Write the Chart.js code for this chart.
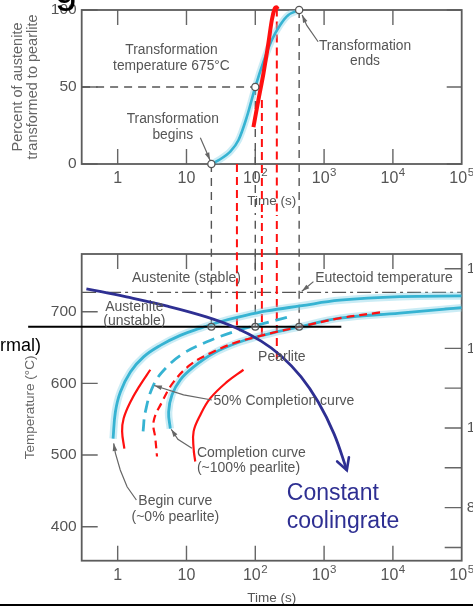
<!DOCTYPE html>
<html>
<head>
<meta charset="utf-8">
<script src="https://cdn.jsdelivr.net/npm/chart.js@4.4.0/dist/chart.umd.min.js"></script>
<style>
  html, body { margin: 0; padding: 0; background: #fff; }
  body { position: relative; width: 473px; height: 607px; overflow: hidden; }
  .panel { position: absolute; left: 0; }
  .side { position: absolute; font-family: Arial, "Liberation Sans", sans-serif; color: #000; white-space: nowrap; line-height: 1; }
</style>
</head>
<body>
<div class="panel" style="top:0"><canvas id="topChart" width="473" height="215"></canvas></div>
<div class="panel" style="top:215px"><canvas id="botChart" width="473" height="392"></canvas></div>
<div class="side" style="right:432px;top:336px;font-size:18px">(isothermal)</div>
<div class="side" style="left:55px;top:-31px;font-size:40px">g</div>
<script>
// axes
const TIME_TICKS = [1, 10, 100, 1000, 10000, 100000];
const TIME_BASE = ['1', '10', '10', '10', '10', '10'];
const TIME_EXP = ['', '', '2', '3', '4', '5'];
const PCT_TICKS = [0, 50, 100];
const TEMP_TICKS = [400, 500, 600, 700];
const TEMPF_TICKS = [700, 800, 900, 1000, 1100, 1200, 1300, 1400];
const TEMPF_LABELS = ['', '800', '', '1000', '', '1200', '', '1400'];

// top panel: percent transformed at 675 C
const fracTime = [23, 30.9, 43.3, 57.1, 75.5, 100, 131.5, 174, 230, 303, 434];
const fracPct = [0, 3.1, 8.1, 15.6, 30.7, 50, 66.4, 80.5, 90.3, 96.8, 100];
const redFracTime = [94, 111, 131.5, 155, 174, 190, 203, 212];
const redFracPct = [24, 41.6, 58.9, 78.4, 93.5, 100.5, 101.8, 100.5];
const markTime = [23, 100, 434];
const markPct = [0, 50, 100];

// bottom panel: TTT curves
const isoTemp = 679;
const eutectoidTemp = 727;
const isoLineTime = [0.05, 1780];
const beginTime = [0.857, 0.926, 1.094, 1.53, 2.38, 4.17, 8.13, 15.9, 31, 60.5, 147, 447, 1700, 12600, 100000];
const beginTemp = [523, 560, 588, 616, 637, 653, 667, 677, 686, 693, 701, 708, 716, 721, 722];
const halfTime = [2.34, 2.52, 3.33, 5.21, 9.07, 19.8, 48.3, 105, 288];
const halfTemp = [533, 560, 598, 623, 642, 658, 672, 681, 692];
const endTime = [5.82, 5.5, 6.16, 8.13, 12.7, 24.7, 60.4, 147, 447, 1700, 12600, 100000];
const endTemp = [537, 560, 584, 605, 623, 642, 658, 668.5, 679, 691, 698, 705.6];
const redLeftTime = [2.98, 2.13, 1.53, 1.22, 1.16, 1.25];
const redLeftTemp = [619, 598, 574, 551, 533, 509];
const redMidTime = [6500, 1707, 447, 206, 105, 48.3, 22.1, 11.4, 6.5, 4.41, 3.33, 3.53, 3.73];
const redMidTemp = [699, 691, 679, 672, 665, 656, 642, 626, 602, 574, 547, 523, 498];
const redRightTime = [67.4, 38.7, 22.1, 15.9, 12.7, 12.7, 13.4];
const redRightTemp = [619, 602, 579, 556, 533, 509, 491];
const coolTime = [0.351, 1.34, 5.09, 19.4, 52.8, 121.8, 237.7, 463.5, 818, 1396, 2140];
const coolTemp = [732, 720.6, 708, 692.7, 677.3, 659, 638.3, 609.2, 574.3, 529.6, 479];
const redDropTime = [54.1, 124.7, 205.6];
const redDropPct = [0, 41.6, 101];
const redDropTemp = [681, 667.6, 634];

const T_MIN = 0.304, T_MAX = 100000;
const C_MIN = 352.6, C_MAX = 780.5;
const FONT = 'Arial, "Liberation Sans", sans-serif';
const CYAN = '#36b3d2';
const HALO = 'rgba(140,212,232,0.45)';
const RED = '#ff1010';
const NAVY = '#2e2f92';
const GREY = '#555';

Chart.defaults.font.family = FONT;

function toPts(xs, ys) { return xs.map((x, i) => ({x: x, y: ys[i]})); }
function drops(xs, ys, toY) {
  const out = [];
  xs.forEach((x, i) => { out.push({x: x, y: ys[i]}, {x: x, y: toY}, {x: x, y: null}); });
  return out;
}
function line(data, color, width, extra) {
  return Object.assign({data: data, showLine: true, borderColor: color, borderWidth: width,
    pointRadius: 0, fill: false, tension: 0.4}, extra || {});
}

const panelDecor = {
  id: 'panelDecor',
  beforeDatasetsDraw(chart, args, o) {
    const {ctx, chartArea: a, scales} = chart;
    const tl = 15;
    ctx.save();
    ctx.strokeStyle = '#666';
    ctx.lineWidth = 1.4;
    ctx.beginPath();
    scales.x.ticks.forEach(t => {
      const px = scales.x.getPixelForValue(t.value);
      if (px > a.right - 2) return;
      ctx.moveTo(px, a.top); ctx.lineTo(px, a.top + tl);
      ctx.moveTo(px, a.bottom); ctx.lineTo(px, a.bottom - tl);
    });
    scales.y.ticks.forEach(t => {
      const py = scales.y.getPixelForValue(t.value);
      ctx.moveTo(a.left, py); ctx.lineTo(a.left + tl + 1, py);
      if (o.rightTicks) { ctx.moveTo(a.right, py); ctx.lineTo(a.right - tl, py); }
    });
    if (scales.yF) {
      scales.yF.ticks.forEach(t => {
        const py = scales.yF.getPixelForValue(t.value);
        ctx.moveTo(a.right, py); ctx.lineTo(a.right - tl - 2, py);
      });
    }
    ctx.stroke();
    ctx.lineWidth = 1.8;
    ctx.strokeStyle = '#5c5c5c';
    ctx.strokeRect(a.left, a.top, a.width, a.height);
    // time labels with raised exponents
    ctx.fillStyle = GREY;
    ctx.textBaseline = 'middle';
    ctx.textAlign = 'left';
    TIME_TICKS.forEach((v, i) => {
      const px = scales.x.getPixelForValue(v), py = a.bottom + 14.8;
      ctx.font = '16px ' + FONT;
      const wb = ctx.measureText(TIME_BASE[i]).width;
      ctx.font = '11.5px ' + FONT;
      const we = TIME_EXP[i] ? ctx.measureText(TIME_EXP[i]).width + 0.5 : 0;
      const x0 = px - (wb + we) / 2;
      ctx.font = '16px ' + FONT;
      ctx.fillText(TIME_BASE[i], x0, py);
      if (we) { ctx.font = '11.5px ' + FONT; ctx.fillText(TIME_EXP[i], x0 + wb + 0.5, py - 6); }
    });
    ctx.restore();
  },
  afterDatasetsDraw(chart, args, o) {
    const {ctx, scales} = chart;
    const xs = scales.x, ys = scales.y;
    ctx.save();
    (o.arrows || []).forEach(ar => {
      const p = ar.pts.map(q => [xs.getPixelForValue(q[0]), ys.getPixelForValue(q[1])]);
      ctx.strokeStyle = '#666'; ctx.fillStyle = '#666'; ctx.lineWidth = 1.2;
      ctx.beginPath();
      ctx.moveTo(p[0][0], p[0][1]);
      p.slice(1).forEach(q => ctx.lineTo(q[0], q[1]));
      ctx.stroke();
      const [x1, y1] = p[p.length - 2], [x2, y2] = p[p.length - 1];
      const ang = Math.atan2(y2 - y1, x2 - x1);
      ctx.beginPath();
      ctx.moveTo(x2, y2);
      ctx.lineTo(x2 - 8 * Math.cos(ang - 0.3), y2 - 8 * Math.sin(ang - 0.3));
      ctx.lineTo(x2 - 8 * Math.cos(ang + 0.3), y2 - 8 * Math.sin(ang + 0.3));
      ctx.closePath();
      ctx.fill();
    });
    if (o.chevron) {
      const n = o.chevron.xs.length;
      const x1 = xs.getPixelForValue(o.chevron.xs[n - 2]), y1 = ys.getPixelForValue(o.chevron.ys[n - 2]);
      const x2 = xs.getPixelForValue(o.chevron.xs[n - 1]), y2 = ys.getPixelForValue(o.chevron.ys[n - 1]);
      const ang = Math.atan2(y2 - y1, x2 - x1);
      ctx.strokeStyle = NAVY; ctx.lineWidth = 2.6; ctx.lineCap = 'round';
      ctx.beginPath();
      ctx.moveTo(x2 - 13 * Math.cos(ang - 0.5), y2 - 13 * Math.sin(ang - 0.5));
      ctx.lineTo(x2, y2);
      ctx.lineTo(x2 - 13 * Math.cos(ang + 0.5), y2 - 13 * Math.sin(ang + 0.5));
      ctx.stroke();
    }
    (o.notes || []).forEach(n => {
      const px = xs.getPixelForValue(n.x), py = ys.getPixelForValue(n.y);
      ctx.font = (n.size || o.noteSize || 13.5) + 'px ' + FONT;
      ctx.fillStyle = n.color || GREY;
      ctx.textAlign = n.align || 'center';
      ctx.textBaseline = 'middle';
      n.lines.forEach((l, i) => ctx.fillText(l, px, py + i * (n.gap || 15.5)));
    });
    ctx.restore();
  }
};

function timeAxis(height, titlePad) {
  return {
    type: 'logarithmic', min: T_MIN, max: T_MAX,
    afterBuildTicks: s => { s.ticks = TIME_TICKS.map(v => ({value: v})); },
    afterFit: s => { s.height = height; s.paddingLeft = 0; s.paddingRight = 0; },
    ticks: {display: false},
    grid: {display: false, drawTicks: false}, border: {display: false},
    title: {display: true, text: 'Time (s)', color: GREY, font: {size: 13.5},
      padding: {top: 0, bottom: titlePad}}
  };
}

const baseOpts = {
  responsive: false, animation: false, events: [],
  plugins: {legend: {display: false}, tooltip: {enabled: false}}
};

// top panel
new Chart(document.getElementById('topChart'), {
  type: 'scatter',
  data: {datasets: [
    {data: toPts(markTime, markPct), pointRadius: 3.6, pointBackgroundColor: '#fff',
      pointBorderColor: '#555', pointBorderWidth: 1.3, showLine: false, clip: false},
    line(toPts(redFracTime, redFracPct), RED, 4, {clip: false, tension: 0.3}),
    line(toPts(fracTime, fracPct), CYAN, 2.6, {tension: 0.3}),
    line(toPts(fracTime, fracPct), HALO, 7, {tension: 0.3}),
    line(drops(redDropTime, redDropPct, -40), RED, 2, {borderDash: [8, 5], tension: 0, clip: false}),
    line(drops(markTime, markPct, -40), GREY, 1.4, {borderDash: [8, 6], tension: 0, clip: false}),
    line(toPts([T_MIN, 100], [50, 50]), GREY, 1.4, {borderDash: [8, 6], tension: 0})
  ]},
  options: Object.assign({}, baseOpts, {
    layout: {padding: {top: 10, right: 11.3, left: 0, bottom: 0}},
    scales: {
      x: timeAxis(51, 6),
      y: {
        min: 0, max: 100,
        afterBuildTicks: s => { s.ticks = PCT_TICKS.map(v => ({value: v})); },
        afterFit: s => { s.width = 81.7; s.paddingTop = 0; s.paddingBottom = 0; },
        ticks: {color: GREY, font: {size: 15.5}, padding: 5},
        grid: {display: false, drawTicks: false}, border: {display: false},
        title: {display: true, text: ['Percent of austenite', 'transformed to pearlite'], color: '#666',
          font: {size: 14.5, lineHeight: 1.05}, padding: {top: 10, bottom: 0}}
      }
    },
    plugins: Object.assign({}, baseOpts.plugins, {
      panelDecor: {
        rightTicks: true,
        noteSize: 13.8,
        notes: [
          {x: 6.05, y: 74, lines: ['Transformation', 'temperature 675°C'], gap: 15.7},
          {x: 6.32, y: 29, lines: ['Transformation', 'begins'], gap: 15.7},
          {x: 3935, y: 76.8, lines: ['Transformation', 'ends'], gap: 15.3}
        ],
        arrows: [
          {pts: [[15.9, 17], [19.5, 8], [22, 2.5]]},
          {pts: [[819, 79.4], [560, 90], [480, 96.8]]}
        ]
      }
    })
  }),
  plugins: [panelDecor]
});

// bottom panel
new Chart(document.getElementById('botChart'), {
  type: 'scatter',
  data: {datasets: [
    {data: toPts(markTime, markTime.map(() => isoTemp)), pointRadius: 3.4, pointBackgroundColor: 'rgba(255,255,255,0.3)',
      pointBorderColor: '#555', pointBorderWidth: 1.3, showLine: false, clip: false},
    line(toPts(coolTime, coolTemp), NAVY, 2.8, {clip: false, tension: 0.4}),
    line(toPts(isoLineTime, [isoTemp, isoTemp]), '#000', 2, {clip: false, tension: 0}),
    line(toPts(redLeftTime, redLeftTemp), RED, 2.2),
    line(toPts(redMidTime, redMidTemp), RED, 2.2, {borderDash: [8, 5]}),
    line(toPts(redRightTime, redRightTemp), RED, 2.2),
    line(toPts(beginTime, beginTemp), CYAN, 2.8),
    line(toPts(halfTime, halfTemp), CYAN, 2.8, {borderDash: [12, 7]}),
    line(toPts(endTime, endTemp), CYAN, 2.8),
    line(toPts(beginTime, beginTemp), HALO, 7.5),
    line(toPts(endTime, endTemp), HALO, 7.5),
    line(drops(redDropTime, redDropTemp, 850), RED, 2, {borderDash: [8, 5], tension: 0, clip: false}),
    line(drops(markTime, markTime.map(() => isoTemp), 850), GREY, 1.4, {borderDash: [8, 6], tension: 0, clip: false}),
    line(toPts([T_MIN, T_MAX], [eutectoidTemp, eutectoidTemp]), GREY, 1.3, {borderDash: [14, 4, 3, 4], tension: 0})
  ]},
  options: Object.assign({}, baseOpts, {
    layout: {padding: {top: 39, right: 0, left: 0, bottom: 0}},
    scales: {
      x: timeAxis(46.3, 1),
      y: {
        min: C_MIN, max: C_MAX,
        afterBuildTicks: s => { s.ticks = TEMP_TICKS.map(v => ({value: v})); },
        afterFit: s => { s.width = 81.7; s.paddingTop = 0; s.paddingBottom = 0; },
        ticks: {color: GREY, font: {size: 15.5}, padding: 5},
        grid: {display: false, drawTicks: false}, border: {display: false},
        title: {display: true, text: 'Temperature (°C)', color: '#666', font: {size: 13.5},
          padding: {top: 22, bottom: 0}}
      },
      yF: {
        position: 'right',
        min: C_MIN * 1.8 + 32, max: C_MAX * 1.8 + 32,
        afterBuildTicks: s => { s.ticks = TEMPF_TICKS.map(v => ({value: v})); },
        afterFit: s => { s.width = 11.3; s.paddingTop = 0; s.paddingBottom = 0; },
        ticks: {callback: (v, i) => TEMPF_LABELS[i], color: GREY, font: {size: 15.5}, padding: 5},
        grid: {display: false, drawTicks: false}, border: {display: false}
      }
    },
    plugins: Object.assign({}, baseOpts.plugins, {
      panelDecor: {
        noteSize: 14,
        notes: [
          {x: 10, y: 746.6, lines: ['Austenite (stable)']},
          {x: 7430, y: 746.6, lines: ['Eutectoid temperature']},
          {x: 1.75, y: 707, lines: ['Austenite', '(unstable)'], gap: 14.3},
          {x: 243, y: 637.2, lines: ['Pearlite']},
          {x: 24.7, y: 575.4, lines: ['50% Completion curve'], align: 'left'},
          {x: 14.2, y: 502.4, lines: ['Completion curve', '(~100% pearlite)'], align: 'left', gap: 15},
          {x: 6.88, y: 435.9, lines: ['Begin curve', '(~0% pearlite)'], gap: 15.7},
          {x: 287, y: 446.6, lines: ['Constant', 'coolingrate'], align: 'left', size: 23, color: NAVY, gap: 28.4}
        ],
        arrows: [
          {pts: [[700, 741.9], [560, 734], [475, 728.5]]},
          {pts: [[23.4, 576.8], [9.07, 584], [3.4, 597]]},
          {pts: [[12, 509.4], [7.5, 522], [6.0, 536]]},
          {pts: [[1.87, 437.3], [1.37, 455.8], [1.09, 479.1], [0.926, 502.8], [0.875, 516.4]]}
        ],
        chevron: {xs: coolTime, ys: coolTemp}
      }
    })
  }),
  plugins: [panelDecor]
});

// page rule along the bottom
const rule = document.createElement('div');
rule.style.cssText = 'position:absolute;left:0;top:604px;width:473px;height:2px;background:#000';
document.body.appendChild(rule);
</script>
</body>
</html>
